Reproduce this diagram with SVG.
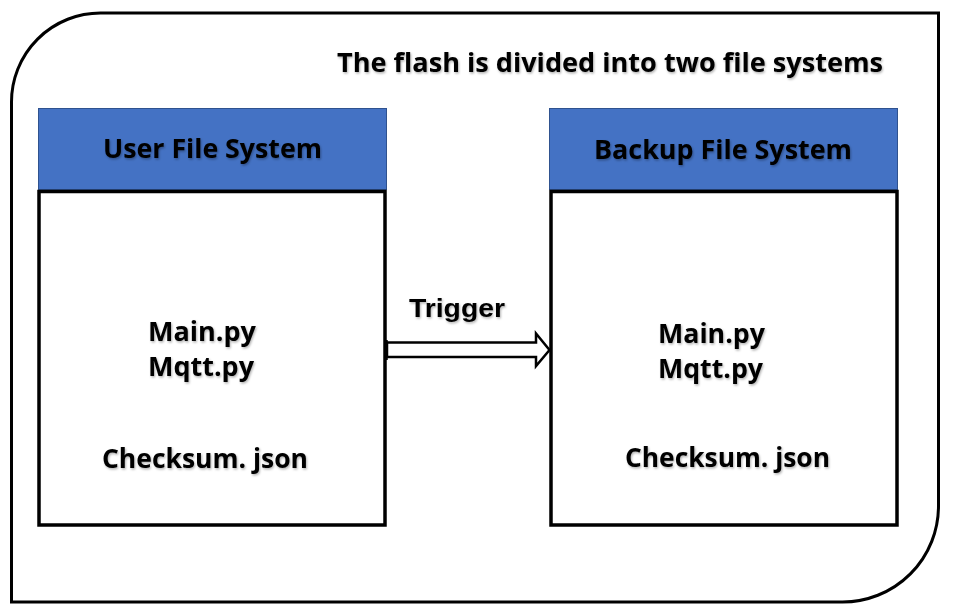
<svg xmlns="http://www.w3.org/2000/svg" width="962" height="612" viewBox="0 0 962 612">
  <defs>
    <filter id="sh" x="-5%" y="-20%" width="110%" height="150%">
      <feDropShadow dx="1" dy="1.5" stdDeviation="0.8" flood-color="#000" flood-opacity="0.3"/>
    </filter>
  </defs>
  <style>
    .t { font-family: "Open Sans", "Noto Sans", "Liberation Sans", sans-serif; font-weight: bold; fill: #000; filter: url(#sh); }
    .trig { font-family: "Liberation Sans", Arial, sans-serif; font-weight: bold; fill: #000; filter: url(#sh); }
    .hdr { fill: #4472C4; stroke: #2F528F; stroke-width: 1; }
    .box { fill: #fff; stroke: #000; stroke-width: 3.5; }
  </style>
  <rect width="962" height="612" fill="#fff"/>
  <g id="flash">
    <path d="M 11.5,102 A 89 89 0 0 1 100.5,13 H 938.5 V 506 A 96 96 0 0 1 842.5,602 H 11.5 Z" fill="none" stroke="#000" stroke-width="3"/>
    <text class="t" x="337" y="72" font-size="27" textLength="546" lengthAdjust="spacingAndGlyphs">The flash is divided into two file systems</text>
  </g>
  <g id="user-fs">
    <rect class="hdr" x="38.5" y="108.5" width="348" height="81"/>
    <text class="t" x="212.5" y="158" font-size="27" text-anchor="middle" textLength="219" lengthAdjust="spacingAndGlyphs">User File System</text>
    <rect class="box" x="39" y="191.5" width="346" height="333.5"/>
    <text class="t" x="148" y="341" font-size="26" textLength="108" lengthAdjust="spacingAndGlyphs">Main.py</text>
    <text class="t" x="148" y="376" font-size="26" textLength="106" lengthAdjust="spacingAndGlyphs">Mqtt.py</text>
    <text class="t" x="102" y="468" font-size="26" textLength="206" lengthAdjust="spacingAndGlyphs">Checksum. json</text>
  </g>
  <g id="backup-fs">
    <rect class="hdr" x="549.5" y="108.5" width="348" height="81"/>
    <text class="t" x="723" y="159" font-size="27" text-anchor="middle" textLength="258" lengthAdjust="spacingAndGlyphs">Backup File System</text>
    <rect class="box" x="551" y="191.5" width="346" height="333.5"/>
    <text class="t" x="658" y="343" font-size="26" textLength="107" lengthAdjust="spacingAndGlyphs">Main.py</text>
    <text class="t" x="658" y="378" font-size="26" textLength="105" lengthAdjust="spacingAndGlyphs">Mqtt.py</text>
    <text class="t" x="625" y="467" font-size="26" textLength="205" lengthAdjust="spacingAndGlyphs">Checksum. json</text>
  </g>
  <g id="connectors">
    <polygon points="387,342.5 536,342.5 536,333.5 549.5,350 536,366 536,357 387,357" fill="#fff" stroke="#000" stroke-width="2.5" stroke-linejoin="miter"/>
    <line x1="386" y1="340" x2="386" y2="360" stroke="#000" stroke-width="3.5"/>
    <text class="trig" x="409" y="317" font-size="26" textLength="96" lengthAdjust="spacingAndGlyphs">Trigger</text>
  </g>
</svg>
